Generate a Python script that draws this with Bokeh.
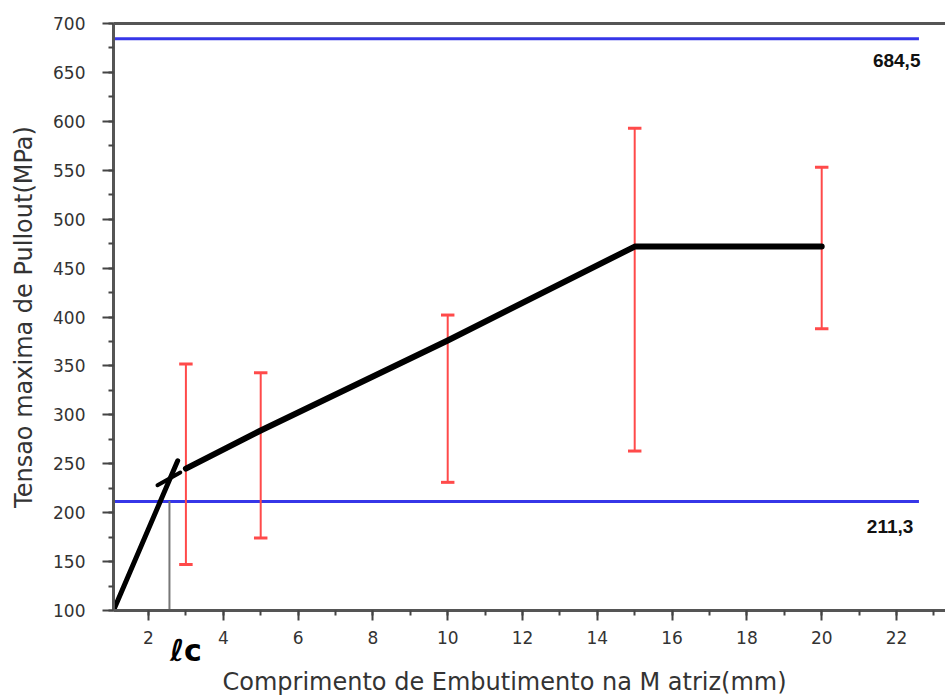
from bokeh.plotting import figure
from bokeh.models import (Range1d, LinearAxis, SingleIntervalTicker, FixedTicker, Title, Label)
from bokeh.embed import file_html
from bokeh.resources import INLINE

# ---- data ----
x_vals = [3, 5, 10, 15, 20]
mean_vals = [245, 284, 376, 472, 472]
upper_vals = [352, 343, 402, 593, 553]
lower_vals = [147, 174, 231, 263, 388]

ref_levels = [684.5, 211.3]
ref_labels = ["684,5", "211,3"]
ref_line_end = 22.6

# hand-drawn critical length construction
lc_line_x = [1.064, 2.78]
lc_line_y = [100, 253]
cross_x = [2.24, 2.85]
cross_y = [228, 241]
lc_x = 2.56
lc_top = 212
lc_text = "ℓc"
lc_text_x = 3.0

x_label = "Comprimento de Embutimento na M atriz(mm)"
y_label = "Tensao maxima de Pullout(MPa)"

X_START, X_END = 1.064, 23.31
Y_START, Y_END = 100, 700

FONT = "DejaVu Sans"
TXT = "#333333"
AX = "#555555"

p = figure(width=945, height=695, output_backend="svg", toolbar_location=None,
           x_range=Range1d(X_START, X_END), y_range=Range1d(Y_START, Y_END),
           min_border_left=113, min_border_right=0, min_border_top=23,
           min_border_bottom=85)
p.outline_line_color = None
p.grid.visible = False
p.background_fill_color = "white"
p.border_fill_color = "white"

# axes
p.xaxis.ticker = SingleIntervalTicker(interval=2, num_minor_ticks=2)
p.yaxis.ticker = SingleIntervalTicker(interval=50, num_minor_ticks=2)
for ax in (p.xaxis[0], p.yaxis[0]):
    ax.axis_line_width = 3
    ax.axis_line_color = AX
    ax.major_tick_line_color = "#444444"
    ax.major_tick_line_width = 2
    ax.minor_tick_line_color = "#444444"
    ax.minor_tick_line_width = 2
    ax.major_tick_in = 0
    ax.minor_tick_in = 0
    ax.major_label_text_font = FONT
    ax.major_label_text_font_size = "17px"
    ax.major_label_text_color = TXT
    ax.axis_label_text_font = FONT
    ax.axis_label_text_font_size = "24px"
    ax.axis_label_text_font_style = "normal"
    ax.axis_label_text_color = TXT

p.yaxis.major_tick_out = 11
p.yaxis.minor_tick_out = 5
p.yaxis.major_label_standoff = 17
p.yaxis.axis_label = y_label
p.yaxis.axis_label_standoff = 12

p.xaxis.major_tick_out = 10
p.xaxis.minor_tick_out = 5
p.xaxis.major_label_standoff = 10

# top border
top_axis = LinearAxis(ticker=FixedTicker(ticks=[]), axis_line_width=3, axis_line_color=AX,
                      major_tick_line_color=None, minor_tick_line_color=None,
                      major_tick_out=0, minor_tick_out=0, major_tick_in=0, minor_tick_in=0,
                      major_label_standoff=0)
p.add_layout(top_axis, "above")

# hand-written "lc" mark under the x axis
lc_axis = LinearAxis(ticker=FixedTicker(ticks=[lc_text_x]),
                     major_label_overrides={lc_text_x: lc_text},
                     axis_line_color=None, major_tick_line_color=None, minor_tick_line_color=None,
                     major_tick_out=0, minor_tick_out=0, major_tick_in=0, minor_tick_in=0,
                     major_label_standoff=-14, major_label_text_font=FONT,
                     major_label_text_font_size="30px", major_label_text_font_style="bold",
                     major_label_text_color="black")
p.add_layout(lc_axis, "below")

# x label as title below, shifted like the reference
p.add_layout(Title(text=x_label, align="left", offset=109, standoff=-10,
                   text_font=FONT, text_font_size="24px", text_font_style="normal",
                   text_color=TXT), "below")

# reference lines
for lvl in ref_levels:
    p.line([X_START, ref_line_end], [lvl, lvl], line_color="#3636e8", line_width=3)

# grey critical length marker
p.line([lc_x, lc_x], [Y_START, lc_top], line_color="#777777", line_width=2)

# error bars
cap = 0.18
p.segment(x0=x_vals, x1=x_vals, y0=lower_vals, y1=upper_vals, line_color="#ff4a4a", line_width=2)
p.segment(x0=[v - cap for v in x_vals], x1=[v + cap for v in x_vals], y0=upper_vals, y1=upper_vals,
          line_color="#ff4a4a", line_width=3)
p.segment(x0=[v - cap for v in x_vals], x1=[v + cap for v in x_vals], y0=lower_vals, y1=lower_vals,
          line_color="#ff4a4a", line_width=3)

# black lines
p.line(x_vals, mean_vals, line_color="black", line_width=6, line_cap="round", line_join="round")
p.line(lc_line_x, lc_line_y, line_color="black", line_width=5, line_cap="round")
p.line(cross_x, cross_y, line_color="black", line_width=4, line_cap="round")

# labels
p.add_layout(Label(x=ref_line_end + 0.04, y=662, text=ref_labels[0], text_align="right",
                   text_baseline="middle", text_font="Liberation Sans", text_font_size="19px",
                   text_font_style="bold", text_color="#111111"))
p.add_layout(Label(x=ref_line_end - 0.15, y=186, text=ref_labels[1], text_align="right",
                   text_baseline="middle", text_font="Liberation Sans", text_font_size="19px",
                   text_font_style="bold", text_color="#111111"))

open("out.html", "w").write(file_html(p, INLINE))
